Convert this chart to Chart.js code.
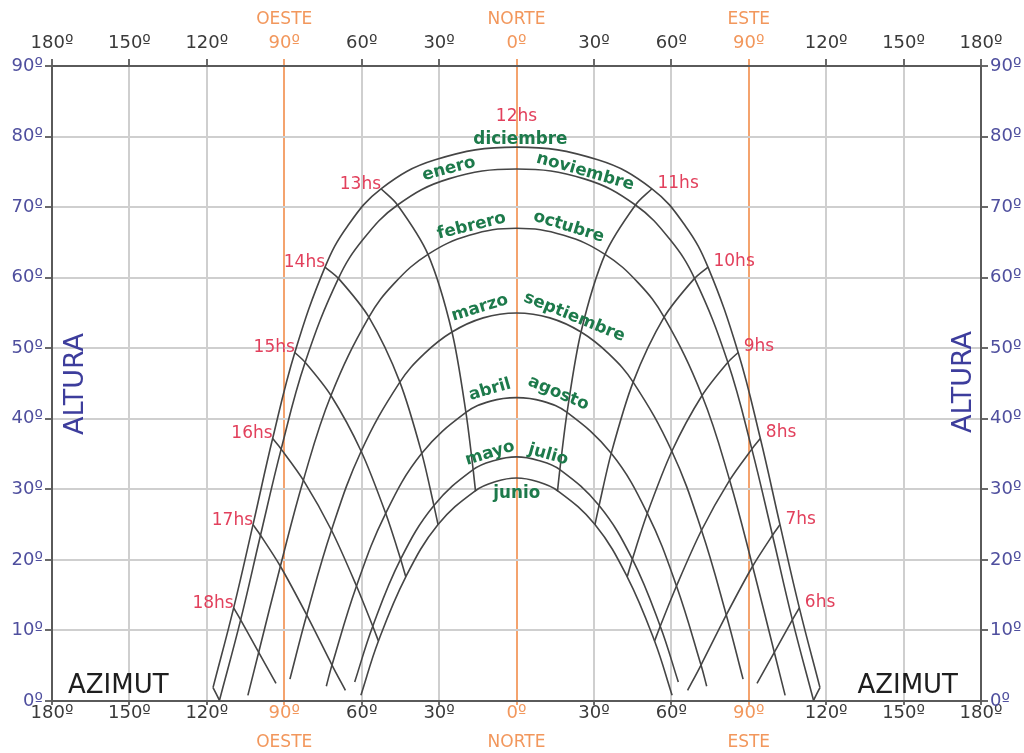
<!DOCTYPE html>
<html lang="es">
<head>
<meta charset="utf-8">
<title>Diagrama de trayectorias solares</title>
<script src="https://cdn.jsdelivr.net/npm/chart.js@4.4.1/dist/chart.umd.min.js"></script>
<style>
  html, body { margin: 0; padding: 0; background: #ffffff; }
  #marco { width: 1024px; height: 753px; }
</style>
</head>
<body>
<div id="marco"><canvas id="diagrama" width="1024" height="753"></canvas></div>
<script>
// Azimut con signo: positivo hacia el este (mañana), negativo hacia el oeste (tarde).
// Cada punto es [azimut, altura] en grados.

const valoresAzimut = [-180, -150, -120, -90, -60, -30, 0, 30, 60, 90, 120, 150, 180];
const etiquetasAzimut = ['180º', '150º', '120º', '90º', '60º', '30º', '0º', '30º', '60º', '90º', '120º', '150º', '180º'];
const valoresAltura = [0, 10, 20, 30, 40, 50, 60, 70, 80, 90];
const etiquetasAltura = ['0º', '10º', '20º', '30º', '40º', '50º', '60º', '70º', '80º', '90º'];
const puntosCardinales = ['OESTE', 'NORTE', 'ESTE'];
const azimutCardinales = [-90, 0, 90];

// Trayectorias diarias del sol (de la salida a la puesta)
const curvaDiciembre = [
  [117.6, 1.9], [109.6, 13.2], [102.1, 25.0], [94.5, 37.2], [85.9, 49.4], [74.2, 61.5], [65.5, 67.3],
  [52.5, 72.6], [31.5, 76.7], [0, 78.5], [-31.5, 76.7], [-52.5, 72.6], [-65.5, 67.3], [-74.2, 61.5],
  [-85.9, 49.4], [-94.5, 37.2], [-102.1, 25.0], [-109.6, 13.2], [-117.6, 1.9]
];
const curvaEneroNoviembre = [
  [115.1, 0.1], [106.9, 11.5], [99.2, 23.5], [91.2, 35.7], [81.9, 48.0], [69.0, 59.9], [59.5, 65.4],
  [46.1, 70.3], [26.3, 74.0], [0, 75.4], [-26.3, 74.0], [-46.1, 70.3], [-59.5, 65.4], [-69.0, 59.9],
  [-81.9, 48.0], [-91.2, 35.7], [-99.2, 23.5], [-106.9, 11.5], [-115.1, 0.1]
];
const curvaFebreroOctubre = [
  [104.1, 0.8], [99.9, 6.9], [91.5, 19.1], [82.6, 31.3], [71.9, 43.3], [57.2, 54.4], [47.1, 59.3],
  [34.3, 63.3], [18.3, 66.0], [0, 67.0], [-18.3, 66.0], [-34.3, 63.3], [-47.1, 59.3], [-57.2, 54.4],
  [-71.9, 43.3], [-82.6, 31.3], [-91.5, 19.1], [-99.9, 6.9], [-104.1, 0.8]
];
const curvaMarzoSeptiembre = [
  [87.8, 3.1], [81.3, 12.2], [71.7, 24.2], [60.2, 35.4], [45.2, 45.2], [35.8, 49.2], [25.0, 52.3],
  [12.9, 54.3], [0, 55.0], [-12.9, 54.3], [-25.0, 52.3], [-35.8, 49.2], [-45.2, 45.2], [-60.2, 35.4],
  [-71.7, 24.2], [-81.3, 12.2], [-87.8, 3.1]
];
const curvaAbrilAgosto = [
  [73.7, 2.1], [71.5, 5.1], [62.0, 16.3], [50.7, 26.6], [36.7, 35.1], [19.6, 40.9], [10.0, 42.5],
  [0, 43.0], [-10.0, 42.5], [-19.6, 40.9], [-36.7, 35.1], [-50.7, 26.6], [-62.0, 16.3], [-71.5, 5.1],
  [-73.7, 2.1]
];
const curvaMayoJulio = [
  [62.7, 2.7], [55.7, 10.6], [44.9, 20.1], [32.0, 27.7], [16.8, 32.8], [8.5, 34.1], [0, 34.6],
  [-8.5, 34.1], [-16.8, 32.8], [-32.0, 27.7], [-44.9, 20.1], [-55.7, 10.6], [-62.7, 2.7]
];
const curvaJunio = [
  [60.3, 0.8], [53.5, 8.5], [42.9, 17.6], [30.4, 25.0], [15.9, 29.8], [8.0, 31.1], [0, 31.6],
  [-8.0, 31.1], [-15.9, 29.8], [-30.4, 25.0], [-42.9, 17.6], [-53.5, 8.5], [-60.3, 0.8]
];

// Líneas horarias (de diciembre hacia junio)
const linea5 = [[117.6, 1.9], [115.1, 0.1]];
const linea6 = [[109.6, 13.2], [106.9, 11.5], [99.9, 6.9], [93.2, 2.5]];
const linea7 = [[102.1, 25.0], [99.2, 23.5], [91.5, 19.1], [81.3, 12.2], [71.5, 5.1], [66.3, 1.5]];
const linea8 = [[94.5, 37.2], [91.2, 35.7], [82.6, 31.3], [71.7, 24.2], [62.0, 16.3], [55.7, 10.6], [53.5, 8.5]];
const linea9 = [[85.9, 49.4], [81.9, 48.0], [71.9, 43.3], [60.2, 35.4], [50.7, 26.6], [44.9, 20.1], [42.9, 17.6]];
const linea10 = [[74.2, 61.5], [69.0, 59.9], [57.2, 54.4], [45.2, 45.2], [36.7, 35.1], [32.0, 27.7], [30.4, 25.0]];
const linea11 = [[52.5, 72.6], [46.1, 70.3], [34.3, 63.3], [25.0, 52.3], [19.6, 40.9], [16.8, 32.8], [15.9, 29.8]];
const linea13 = [[-52.5, 72.6], [-46.1, 70.3], [-34.3, 63.3], [-25.0, 52.3], [-19.6, 40.9], [-16.8, 32.8], [-15.9, 29.8]];
const linea14 = [[-74.2, 61.5], [-69.0, 59.9], [-57.2, 54.4], [-45.2, 45.2], [-36.7, 35.1], [-32.0, 27.7], [-30.4, 25.0]];
const linea15 = [[-85.9, 49.4], [-81.9, 48.0], [-71.9, 43.3], [-60.2, 35.4], [-50.7, 26.6], [-44.9, 20.1], [-42.9, 17.6]];
const linea16 = [[-94.5, 37.2], [-91.2, 35.7], [-82.6, 31.3], [-71.7, 24.2], [-62.0, 16.3], [-55.7, 10.6], [-53.5, 8.5]];
const linea17 = [[-102.1, 25.0], [-99.2, 23.5], [-91.5, 19.1], [-81.3, 12.2], [-71.5, 5.1], [-66.3, 1.5]];
const linea18 = [[-109.6, 13.2], [-106.9, 11.5], [-99.9, 6.9], [-93.2, 2.5]];
const linea19 = [[-117.6, 1.9], [-115.1, 0.1]];

const curvasDiarias = [curvaDiciembre, curvaEneroNoviembre, curvaFebreroOctubre, curvaMarzoSeptiembre,
                       curvaAbrilAgosto, curvaMayoJulio, curvaJunio];
const lineasHorarias = [
  { etiqueta: null, puntos: linea5 }, { etiqueta: '6hs', puntos: linea6 }, { etiqueta: '7hs', puntos: linea7 },
  { etiqueta: '8hs', puntos: linea8 }, { etiqueta: '9hs', puntos: linea9 }, { etiqueta: '10hs', puntos: linea10 },
  { etiqueta: '11hs', puntos: linea11 }, { etiqueta: '13hs', puntos: linea13 }, { etiqueta: '14hs', puntos: linea14 },
  { etiqueta: '15hs', puntos: linea15 }, { etiqueta: '16hs', puntos: linea16 }, { etiqueta: '17hs', puntos: linea17 },
  { etiqueta: '18hs', puntos: linea18 }, { etiqueta: null, puntos: linea19 }
];
const etiquetaMediodia = '12hs';

const meses = ['diciembre', 'enero', 'noviembre', 'febrero', 'octubre', 'marzo',
               'septiembre', 'abril', 'agosto', 'mayo', 'julio', 'junio'];

// Ubicación de los nombres de los meses sobre sus curvas (azimut, altura, giro en grados)
const ubicacionMeses = {
  diciembre:  { az: 1.5,   alt: 79.5, giro: 0 },
  enero:      { az: -26.2, alt: 75.4, giro: -15 },
  noviembre:  { az: 26.6,  alt: 75.0, giro: 16 },
  febrero:    { az: -17.4, alt: 67.3, giro: -14 },
  octubre:    { az: 20.2,  alt: 67.2, giro: 17 },
  marzo:      { az: -14.2, alt: 55.7, giro: -17 },
  septiembre: { az: 22.4,  alt: 54.4, giro: 22 },
  abril:      { az: -10.3, alt: 44.1, giro: -16 },
  agosto:     { az: 16.2,  alt: 43.6, giro: 23 },
  mayo:       { az: -10.3, alt: 35.1, giro: -17 },
  julio:      { az: 12.3,  alt: 34.9, giro: 16 },
  junio:      { az: 0.1,   alt: 29.4, giro: 0 }
};

const FUENTE = "'DejaVu Sans', Verdana, sans-serif";
const NARANJA = '#f2975c';
const NARANJA_LINEA = '#f4a36e';
const GRIS_REJILLA = '#cfcfcf';
const GRIS_EJE = '#5a5a5a';
const TRAZO = '#454545';
const AZUL = '#4f4f9e';
const ROJO = '#e2405c';
const VERDE = '#1d7a4b';

const esCardinal = v => v === -90 || v === 0 || v === 90;
const aPuntos = lista => lista.map(p => ({ x: p[0], y: p[1] }));

const datasets = [];
curvasDiarias.forEach(c => datasets.push({
  data: aPuntos(c), showLine: true, pointRadius: 0, borderColor: TRAZO, borderWidth: 1.6, tension: 0.4, fill: false
}));
lineasHorarias.forEach(l => datasets.push({
  data: aPuntos(l.puntos), showLine: true, pointRadius: 0, borderColor: TRAZO, borderWidth: 1.6, tension: 0.3, fill: false
}));

function ejeAzimut(posicion) {
  const arriba = posicion === 'top';
  return {
    type: 'linear', position: posicion, min: -180, max: 180,
    afterBuildTicks(eje) { eje.ticks = valoresAzimut.map(v => ({ value: v })); },
    afterFit(eje) { eje.height = arriba ? 66 : 52; },
    ticks: {
      autoSkip: false, maxRotation: 0, minRotation: 0,
      padding: arriba ? 5 : -1,
      font: { family: FUENTE, size: 18, lineHeight: arriba ? 1.2 : 1.0 },
      color: c => esCardinal(c.tick.value) ? NARANJA : '#3a3a3a',
      callback: (v, i) => etiquetasAzimut[i]
    },
    grid: {
      drawOnChartArea: !arriba,
      tickLength: arriba ? 7 : 4,
      lineWidth: 2,
      color: c => esCardinal(c.tick.value) ? NARANJA_LINEA : (Math.abs(c.tick.value) === 180 ? GRIS_EJE : GRIS_REJILLA),
      tickColor: c => esCardinal(c.tick.value) ? NARANJA_LINEA : '#6a6a6a'
    },
    border: { color: GRIS_EJE, width: 2 }
  };
}

function ejeAltura(posicion) {
  const izquierda = posicion === 'left';
  return {
    type: 'linear', position: posicion, min: 0, max: 90,
    afterBuildTicks(eje) { eje.ticks = valoresAltura.map(v => ({ value: v })); },
    afterFit(eje) { eje.width = izquierda ? 52 : 43; },
    ticks: {
      autoSkip: false, padding: 2,
      font: { family: FUENTE, size: 18 },
      color: AZUL,
      callback: (v, i) => etiquetasAltura[i]
    },
    grid: {
      drawOnChartArea: izquierda,
      tickLength: 7, lineWidth: 2,
      color: c => (c.tick.value === 0 || c.tick.value === 90) ? GRIS_EJE : GRIS_REJILLA,
      tickColor: '#6a6a6a'
    },
    border: { color: GRIS_EJE, width: 2 }
  };
}

// Rótulos: puntos cardinales, nombres de ejes, horas y meses
const rotulos = {
  id: 'rotulos',
  afterDraw(chart) {
    const { ctx, chartArea: area } = chart;
    const x = chart.scales.x, y = chart.scales.y;
    ctx.save();

    ctx.font = `17px ${FUENTE}`;
    ctx.fillStyle = NARANJA;
    ctx.textAlign = 'center';
    ctx.textBaseline = 'middle';
    puntosCardinales.forEach((nombre, i) => {
      const px = x.getPixelForValue(azimutCardinales[i]);
      ctx.fillText(nombre, px, area.top - 46.5);
      ctx.fillText(nombre, px, area.bottom + 42);
    });

    ctx.font = `26px ${FUENTE}`;
    ctx.fillStyle = '#1e1e1e';
    ctx.textBaseline = 'alphabetic';
    ctx.textAlign = 'left';
    ctx.fillText('AZIMUT', area.left + 16, area.bottom - 8);
    ctx.textAlign = 'right';
    ctx.fillText('AZIMUT', area.right - 23, area.bottom - 8);

    ctx.font = `27px ${FUENTE}`;
    ctx.fillStyle = '#3d3d9c';
    ctx.textAlign = 'center';
    ctx.textBaseline = 'middle';
    [[area.left + 24, 384], [area.right - 17, 382]].forEach(([cx, cy]) => {
      ctx.save();
      ctx.translate(cx, cy);
      ctx.rotate(-Math.PI / 2);
      ctx.fillText('ALTURA', 0, 0);
      ctx.restore();
    });

    ctx.font = `17px ${FUENTE}`;
    ctx.fillStyle = ROJO;
    ctx.textBaseline = 'middle';
    lineasHorarias.forEach(l => {
      if (!l.etiqueta) return;
      const [az, alt] = l.puntos[0];
      const px = x.getPixelForValue(az), py = y.getPixelForValue(alt);
      if (az < 0) {
        ctx.textAlign = 'right';
        ctx.fillText(l.etiqueta, px, py - 4.5);
      } else {
        ctx.textAlign = 'left';
        ctx.fillText(l.etiqueta, px + 5.5, py - 5.5);
      }
    });
    const cenit = curvaDiciembre.find(p => p[0] === 0);
    ctx.textAlign = 'center';
    ctx.fillText(etiquetaMediodia, x.getPixelForValue(cenit[0]), y.getPixelForValue(cenit[1]) - 31);

    ctx.font = `bold 16.8px ${FUENTE}`;
    ctx.fillStyle = VERDE;
    ctx.textAlign = 'center';
    ctx.textBaseline = 'middle';
    meses.forEach(m => {
      const u = ubicacionMeses[m];
      ctx.save();
      ctx.translate(x.getPixelForValue(u.az), y.getPixelForValue(u.alt));
      ctx.rotate(u.giro * Math.PI / 180);
      ctx.fillText(m, 0, 0);
      ctx.restore();
    });

    ctx.restore();
  }
};

new Chart(document.getElementById('diagrama'), {
  type: 'scatter',
  data: { datasets },
  options: {
    responsive: false,
    animation: false,
    layout: { padding: 0 },
    plugins: { legend: { display: false }, tooltip: { enabled: false } },
    scales: {
      x: ejeAzimut('bottom'),
      x2: ejeAzimut('top'),
      y: ejeAltura('left'),
      y2: ejeAltura('right')
    }
  },
  plugins: [rotulos]
});
</script>
</body>
</html>
